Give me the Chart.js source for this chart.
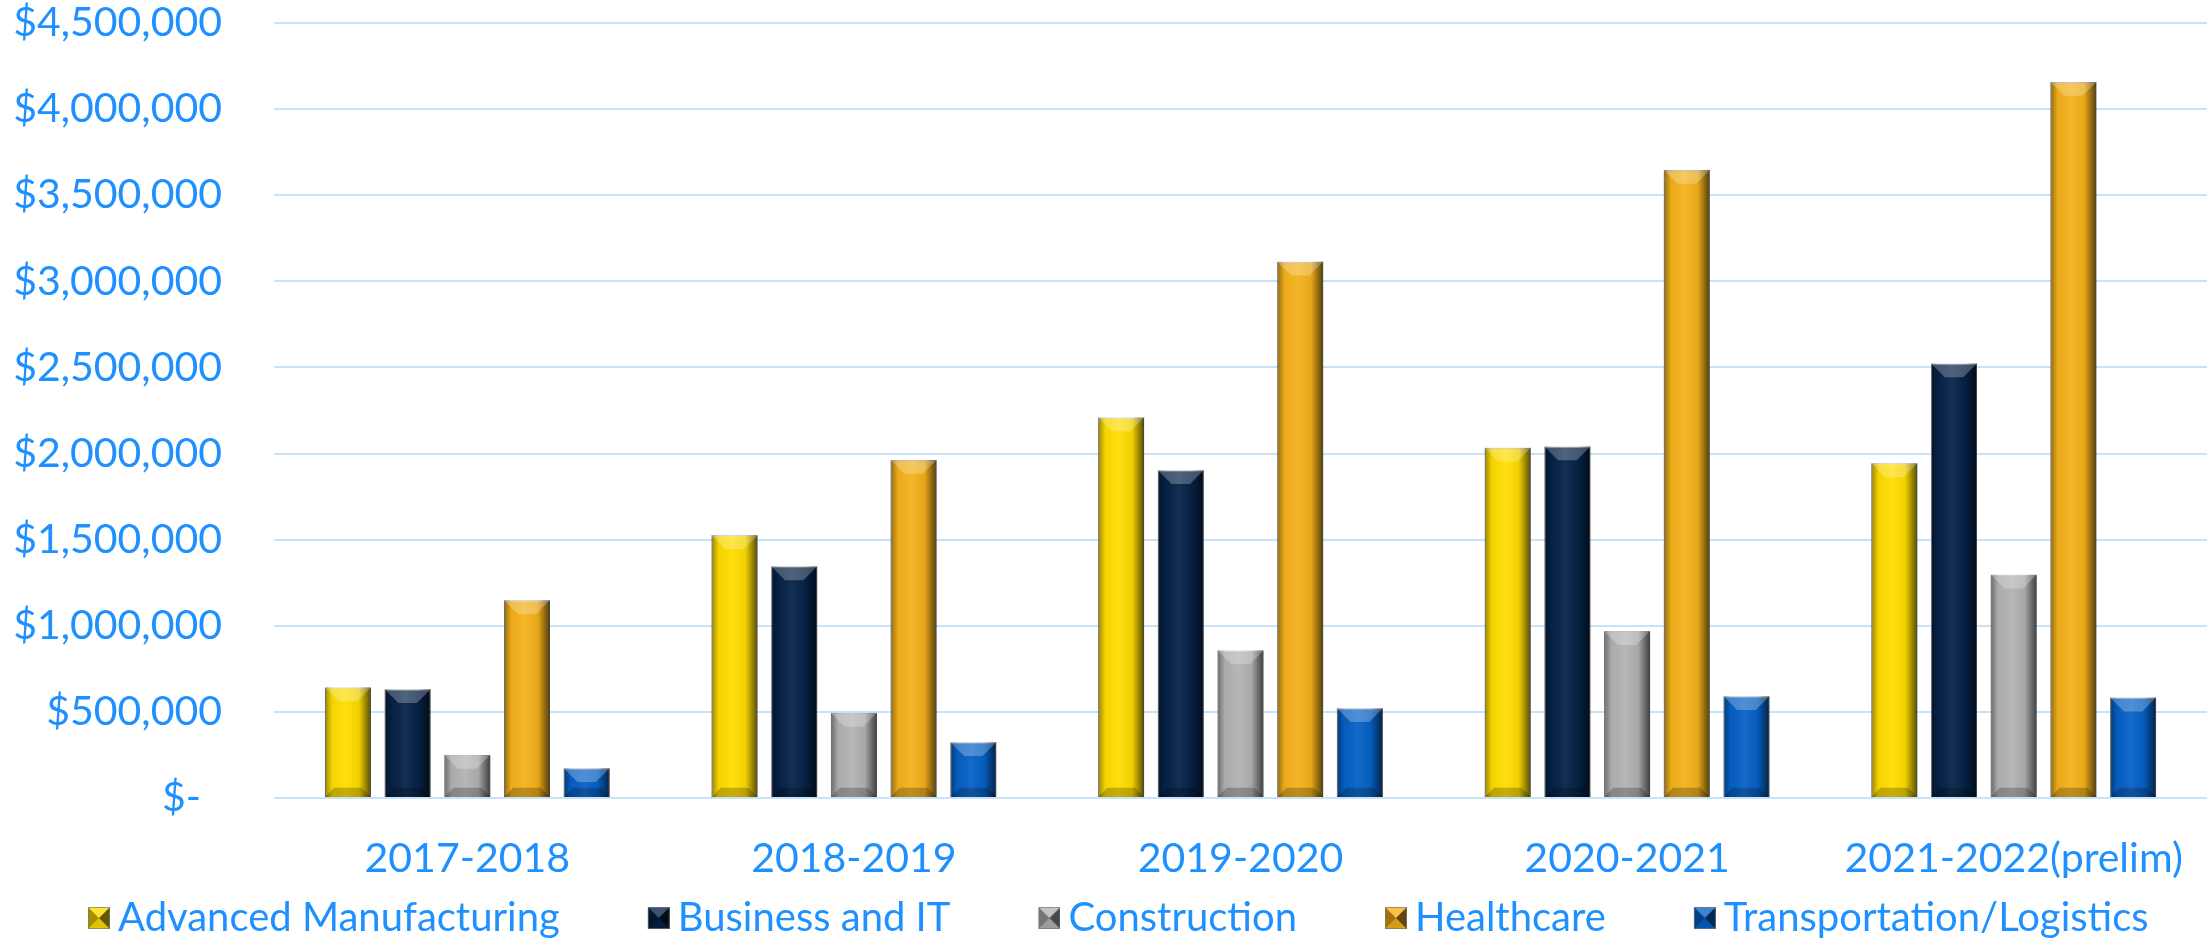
<!DOCTYPE html>
<html>
<head>
<meta charset="utf-8">
<script src="https://cdn.jsdelivr.net/npm/chart.js@4"></script>
<style>
  html, body { margin: 0; padding: 0; background: #ffffff; }
  #wrap { width: 2209px; height: 940px; position: relative; }
</style>
</head>
<body>
<div id="wrap"><canvas id="fundingChart"></canvas></div>
<script>
// chart values
var years = ['2017-2018', '2018-2019', '2019-2020', '2020-2021', '2021-2022(prelim)'];
var advancedManufacturing = [642000, 1526000, 2209000, 2033000, 1943000];
var businessIT = [632000, 1345000, 1903000, 2041000, 2523000];
var construction = [250000, 494000, 857000, 969000, 1296000];
var healthcare = [1148000, 1963000, 3114000, 3647000, 4157000];
var transportation = [173000, 324000, 521000, 591000, 583000];

var seriesNames = ['Advanced Manufacturing', 'Business and IT', 'Construction', 'Healthcare', 'Transportation/Logistics'];
var seriesColors = ['#FFDD00', '#062247', '#B2B2B2', '#F4B11B', '#0661C6'];

var textBlue = '#1E90FF';
var gridBlue = '#C6E3FA';

var legendFont = 40;
var swatchSlot = 78;   // pointStyleWidth: blank lead-in + square
var swatchPad = 20;    // legend labels.padding

// bevelled legend square, pushed to the right end of a wider transparent canvas
// so the gap before the text is small and the gap before the next item is wide
function makeSwatch(color) {
  var c = document.createElement('canvas');
  c.width = swatchSlot + 2 * (legendFont / 2 - 8);
  c.height = 22;
  var g = c.getContext('2d');
  var ox = c.width - 22;
  g.fillStyle = color;
  g.fillRect(ox, 0, 22, 22);
  function tri(a, b, cc, fill) {
    g.beginPath();
    g.moveTo(ox + a[0], a[1]); g.lineTo(ox + b[0], b[1]); g.lineTo(ox + cc[0], cc[1]);
    g.closePath();
    g.fillStyle = fill; g.fill();
  }
  tri([0, 0], [11, 11], [0, 22], 'rgba(0,0,0,0.35)');
  tri([22, 0], [11, 11], [22, 22], 'rgba(0,0,0,0.6)');
  tri([0, 0], [22, 0], [11, 11], 'rgba(255,255,255,0.22)');
  tri([0, 22], [22, 22], [11, 11], 'rgba(0,0,0,0.12)');
  g.strokeStyle = 'rgba(120,120,120,0.7)';
  g.lineWidth = 1;
  g.strokeRect(ox + 0.5, 0.5, 21, 21);
  return c;
}
var swatches = seriesColors.map(makeSwatch);

// shading drawn over each bar to give the bevelled look
var bevelPlugin = {
  id: 'bevel',
  afterDatasetsDraw: function (chart) {
    var ctx = chart.ctx;
    chart.data.datasets.forEach(function (ds, i) {
      var meta = chart.getDatasetMeta(i);
      if (meta.hidden) return;
      meta.data.forEach(function (bar) {
        var p = bar.getProps(['x', 'y', 'base', 'width'], true);
        var left = p.x - p.width / 2, right = p.x + p.width / 2;
        var top = Math.min(p.y, p.base), bottom = Math.max(p.y, p.base);
        var h = bottom - top;
        var d = Math.min(p.width * 0.3, h / 2);
        var db = Math.min(p.width * 0.2, h / 2);
        ctx.save();
        var g = ctx.createLinearGradient(left, 0, right, 0);
        g.addColorStop(0, 'rgba(0,0,0,0.4)');
        g.addColorStop(0.16, 'rgba(0,0,0,0.04)');
        g.addColorStop(0.45, 'rgba(255,255,255,0.06)');
        g.addColorStop(0.74, 'rgba(0,0,0,0.06)');
        g.addColorStop(1, 'rgba(0,0,0,0.65)');
        ctx.fillStyle = g;
        ctx.fillRect(left, top, p.width, h);

        ctx.beginPath();
        ctx.moveTo(left, top); ctx.lineTo(right, top);
        ctx.lineTo(right - d, top + d); ctx.lineTo(left + d, top + d);
        ctx.closePath();
        ctx.fillStyle = 'rgba(255,255,255,0.25)';
        ctx.fill();

        ctx.beginPath();
        ctx.moveTo(left, bottom); ctx.lineTo(right, bottom);
        ctx.lineTo(right - db, bottom - db); ctx.lineTo(left + db, bottom - db);
        ctx.closePath();
        ctx.fillStyle = 'rgba(0,0,0,0.22)';
        ctx.fill();
        ctx.restore();
      });
    });
  }
};

var seriesValues = [advancedManufacturing, businessIT, construction, healthcare, transportation];

var fundingChart = new Chart(document.getElementById('fundingChart'), {
  type: 'bar',
  data: {
    labels: years,
    datasets: seriesValues.map(function (vals, i) {
      return {
        label: seriesNames[i],
        data: vals,
        backgroundColor: seriesColors[i],
        borderColor: 'rgba(150,150,150,0.8)',
        borderWidth: 1,
        categoryPercentage: 0.772,
        barPercentage: 0.77
      };
    })
  },
  options: {
    responsive: true,
    maintainAspectRatio: false,
    animation: false,
    layout: { padding: { left: 0, right: 2, top: 0, bottom: 0 } },
    plugins: {
      tooltip: { enabled: false },
      legend: {
        position: 'bottom',
        align: 'start',
        maxHeight: 62,
        labels: {
          usePointStyle: true,
          pointStyleWidth: swatchSlot,
          boxHeight: 22,
          padding: swatchPad,
          color: textBlue,
          font: { family: 'Lato', size: legendFont },
          generateLabels: function (chart) {
            var items = Chart.defaults.plugins.legend.labels.generateLabels(chart);
            items.forEach(function (it, i) { it.pointStyle = swatches[i]; });
            return items;
          }
        }
      }
    },
    scales: {
      x: {
        grid: { display: false },
        border: { display: false },
        ticks: {
          color: textBlue,
          font: { family: 'Lato', size: 41 },
          padding: 28,
          maxRotation: 0,
          autoSkip: false
        },
        afterFit: function (scale) {
          scale.height = 80;
          scale.paddingLeft = 0;
          scale.paddingRight = 0;
        }
      },
      y: {
        min: 0,
        max: 4500000,
        border: { display: false },
        grid: { color: gridBlue, lineWidth: 2, drawTicks: false },
        ticks: {
          stepSize: 500000,
          color: textBlue,
          font: { family: 'Lato', size: 41 },
          padding: 52,
          callback: function (v) {
            return v === 0 ? '$-  ' : '$' + v.toLocaleString('en-US');
          }
        },
        afterFit: function (scale) {
          scale.width = 274;
          scale.paddingTop = 23;
        }
      }
    }
  },
  plugins: [bevelPlugin]
});
</script>
</body>
</html>
